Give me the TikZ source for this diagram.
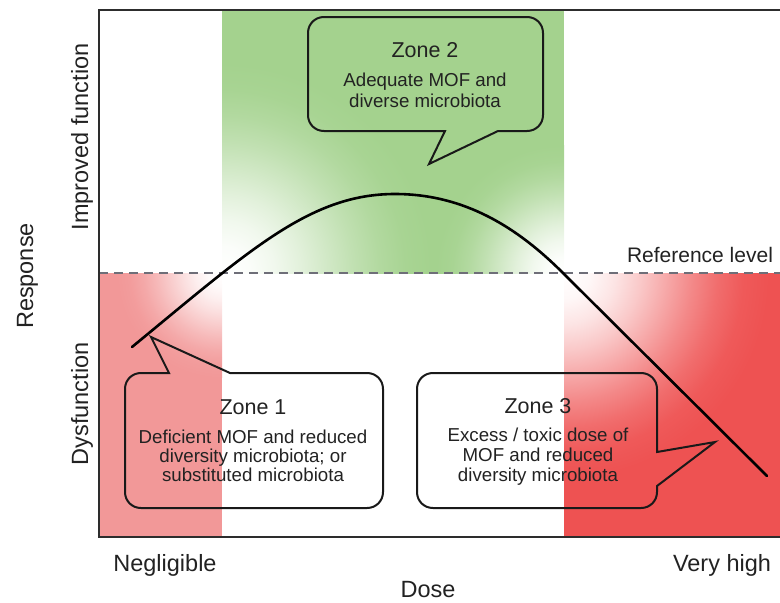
\documentclass[tikz,border=0pt]{standalone}
\usepackage{fontspec}
\setmainfont{Liberation Sans}
\definecolor{zgreen}{RGB}{164,210,142}
\definecolor{zredA}{RGB}{242,152,152}
\definecolor{zredB}{RGB}{238,82,82}
\definecolor{txt}{RGB}{34,34,34}
\definecolor{frm}{RGB}{45,45,45}
\definecolor{dsh}{RGB}{110,110,120}
\newcommand\zfadedecl[2]{%
  \pgfdeclareradialshading{#1}{\pgfpointorigin}{%
    color(0bp)=(white);
    color(3.125bp)=(#2!4.3!white);
    color(6.25bp)=(#2!15.6!white);
    color(9.375bp)=(#2!31.6!white);
    color(12.5bp)=(#2!50!white);
    color(15.625bp)=(#2!68.4!white);
    color(18.75bp)=(#2!84.4!white);
    color(21.875bp)=(#2!95.7!white);
    color(25bp)=(#2);
    color(50bp)=(#2)}}
\zfadedecl{zfadeG}{zgreen}
\zfadedecl{zfadeA}{zredA}
\zfadedecl{zfadeB}{zredB}
\tikzset{
  ttl/.style={font=\fontsize{21.5}{24}\selectfont, anchor=base, text=txt, inner sep=0pt},
  bod/.style={font=\fontsize{18.7}{21}\selectfont, anchor=base, text=txt, inner sep=0pt},
  axl/.style={font=\fontsize{23.5}{26}\selectfont, anchor=base, text=txt, inner sep=0pt},
  reft/.style={font=\fontsize{21}{24}\selectfont, anchor=base, text=txt, inner sep=0pt},
  callout/.style={draw=black!90, line width=2pt, line join=miter},
  curveline/.style={draw=black, line width=2.6pt},
  refline/.style={draw=dsh, line width=2.2pt, dash pattern=on 9pt off 6pt},
  frameline/.style={draw=frm, line width=2.5pt}
}
\begin{document}
\begin{tikzpicture}[x=1pt,y=-1pt]
\useasboundingbox (0,0) rectangle (780,603);
\clip (0,0) rectangle (780,603);
% green zone, left part
\begin{scope}
\clip (222,10) rectangle (436,273);
\fill[zgreen] (222,10) rectangle (436,273);
\shade[shading=zfadeG] (222,273) circle (210);
\end{scope}
% green zone, right part
\begin{scope}
\clip (436,10) rectangle (564,273);
\fill[zgreen] (436,10) rectangle (564,273);
\shade[shading=zfadeG] (564,273) circle (128);
\end{scope}
% red zone 1
\begin{scope}
\clip (99,273) rectangle (222,537);
\fill[zredA] (99,273) rectangle (222,537);
\shade[shading=zfadeA] (222,273) circle (105);
\end{scope}
% red zone 3
\begin{scope}
\clip (564,273) rectangle (780,537);
\fill[zredB] (564,273) rectangle (780,537);
\shade[shading=zfadeB] (564,273) circle (205);
\end{scope}
% reference line
\coordinate (refL) at (99,273);
\coordinate (refR) at (780,273);
\draw[refline] (refL) -- (refR);
% frame
\coordinate (fTR) at (782,10);
\coordinate (fTL) at (99,10);
\coordinate (fBL) at (99,537);
\coordinate (fBR) at (782,537);
\draw[frameline] (fTR) -- (fTL) -- (fBL) -- (fBR);
% response curve
\coordinate (cS) at (132,347);
\coordinate (cP) at (395,194);
\coordinate (cX) at (563,273);
\coordinate (cE) at (767,476);
\draw[curveline, line cap=round] (cS) .. controls (250,250) and (310,194) .. (cP)
  .. controls (465,194) and (518,228) .. (cX) -- (cE);
% callout zone 2
\draw[callout] (445,131) -- (429,164) -- (498,131) -- (527,131)
  .. controls (536,131) and (543,124) .. (543,115) -- (543,33)
  .. controls (543,24) and (536,17) .. (527,17) -- (324,17)
  .. controls (315,17) and (308,24) .. (308,33) -- (308,115)
  .. controls (308,124) and (315,131) .. (324,131) -- cycle;
% callout zone 1
\draw[callout] (169,373) -- (151,337) -- (230,373) -- (367,373)
  .. controls (376,373) and (383,380) .. (383,389) -- (383,492)
  .. controls (383,501) and (376,508) .. (367,508) -- (141,508)
  .. controls (132,508) and (125,501) .. (125,492) -- (125,389)
  .. controls (125,380) and (132,373) .. (141,373) -- cycle;
% callout zone 3
\draw[callout] (657,452) -- (715,442) -- (657,486) -- (657,492)
  .. controls (657,501) and (650,508) .. (641,508) -- (433,508)
  .. controls (424,508) and (417,501) .. (417,492) -- (417,389)
  .. controls (417,380) and (424,373) .. (433,373) -- (641,373)
  .. controls (650,373) and (657,380) .. (657,389) -- cycle;
% texts zone 2
\node[ttl] (z2t) at (425,57.7) {Zone 2};
\node[bod] (z2a) at (425,86.7) {Adequate MOF and};
\node[bod] (z2b) at (425,107.3) {diverse microbiota};
% texts zone 1
\node[ttl] (z1t) at (253,414.3) {Zone 1};
\node[bod] (z1a) at (253,443.3) {Deficient MOF and reduced};
\node[bod] (z1b) at (253,462.7) {diversity microbiota; or};
\node[bod] (z1c) at (253,481.7) {substituted microbiota};
% texts zone 3
\node[ttl] (z3t) at (538,413.3) {Zone 3};
\node[bod] (z3a) at (538,441.7) {Excess / toxic dose of};
\node[bod] (z3b) at (538,461.7) {MOF and reduced};
\node[bod] (z3c) at (538,481) {diversity microbiota};
% axis labels
\node[reft] (ref) at (700,262) {Reference level};
\node[axl] (neg) at (165,571) {Negligible};
\node[axl] (vh) at (722,571) {Very high};
\node[axl] (dose) at (428,597) {Dose};
\node[axl, rotate=90] (resp) at (33,276) {Response};
\node[axl, rotate=90] (impr) at (88,137) {Improved function};
\node[axl, rotate=90] (dysf) at (88,404) {Dysfunction};
\end{tikzpicture}
\end{document}
